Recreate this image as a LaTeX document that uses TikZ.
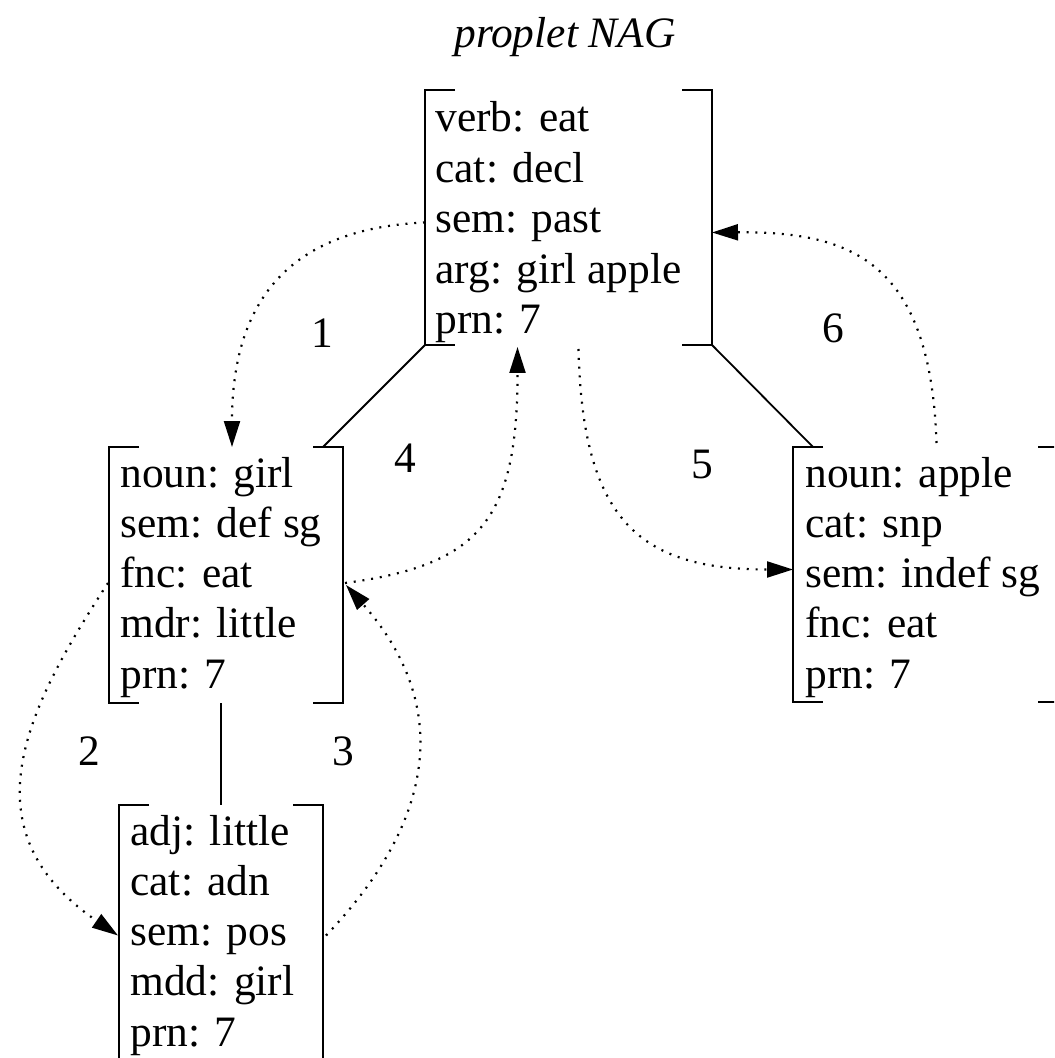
\documentclass[tikz,border=0pt]{standalone}
\usepackage{fontspec}
\setmainfont{Liberation Serif}
\usepackage{tikz}
\usetikzlibrary{arrows.meta, fit}
\tikzset{
  propframe/.style={inner sep=0pt, outer sep=0pt},
  field/.style={anchor=base west, inner sep=0pt},
  bracket/.style={line width=0.9pt, color=black},
  link/.style={line width=0.9pt, color=black},
  trace/.style={-{Triangle[length=13pt, width=8pt]}, line width=1.1pt,
    dash pattern=on 1pt off 3.4pt},
  stepnum/.style={inner sep=0pt}
}

\begin{document}
\begin{tikzpicture}[x=0.5pt, y=-0.5pt, every node/.style={font=\fontsize{21.7}{25}\selectfont}]
  \clip (0,0) rectangle (1054,1058);

  % title
  \node[anchor=base, font=\fontsize{21.7}{25}\selectfont\itshape] (title) at (565,48) {proplet NAG};

  % proplet frames
  \node[propframe, fit={(425,90) (712,345)}] (verb) {};
  \node[propframe, fit={(109,447) (343,703)}] (girl) {};
  \node[propframe, fit={(119,805) (323,1060)}] (little) {};
  \node[propframe, fit={(793,447) (1068,702)}] (apple) {};

  % brackets
  \foreach \n in {verb, girl, little, apple} {
    \draw[bracket] ([shift={(30,0)}]\n.north west) -- (\n.north west) -- (\n.south west) -- ++(30,0);
    \draw[bracket] ([shift={(-30,0)}]\n.north east) -- (\n.north east) -- (\n.south east) -- ++(-30,0);
  }

  % attributes
  \foreach \txt [count=\i] in {verb: eat, cat: decl, sem: past, arg: girl apple, prn: 7}
    \node[field] (verb-\i) at ([shift={(10,{42+50.5*(\i-1)})}]verb.north west) {\txt};
  \foreach \txt [count=\i] in {noun: girl, sem: def sg, fnc: eat, mdr: little, prn: 7}
    \node[field] (girl-\i) at ([shift={(11,{40+50.3*(\i-1)})}]girl.north west) {\txt};
  \foreach \txt [count=\i] in {adj: little, cat: adn, sem: pos, mdd: girl, prn: 7}
    \node[field] (little-\i) at ([shift={(11,{40+50.3*(\i-1)})}]little.north west) {\txt};
  \foreach \txt [count=\i] in {noun: apple, cat: snp, sem: indef sg, fnc: eat, prn: 7}
    \node[field] (apple-\i) at ([shift={(12,{40+50.3*(\i-1)})}]apple.north west) {\txt};

  % tree lines
  \draw[link] (verb.south west) -- ([shift={(-20,0)}]girl.north east);
  \draw[link] (verb.south east) -- ([shift={(20,0)}]apple.north west);
  \draw[link] (little.north |- girl.south) -- (little.north);

  % navigation
  \draw[trace] ([shift={(0,5)}]verb.west) .. controls +(-135,6) and +(0,-147) .. ([shift={(6,0)}]girl.north);
  \draw[trace] ([shift={(-1,8)}]girl.west) .. controls +(-83,127) and +(-153,-105) .. ([shift={(-1,3)}]little.west);
  \draw[trace] ([shift={(3,3)}]little.east) .. controls +(110,-115) and +(106,120) .. ([shift={(3,10)}]girl.east);
  \draw[trace] ([shift={(2,8)}]girl.east) .. controls +(135,-18) and +(0,173) .. ([shift={(-51,2)}]verb.south);
  \draw[trace] ([shift={(10,4)}]verb.south) .. controls +(4,172) and +(-153,0) .. ([shift={(0,-5)}]apple.west);
  \draw[trace] ([shift={(6,-4)}]apple.north) .. controls +(-6,-183) and +(138,-1) .. ([shift={(0,15)}]verb.east);

  % step numbers
  \node[stepnum] (n1) at (322,333) {1};
  \node[stepnum] (n2) at (89,751) {2};
  \node[stepnum] (n3) at (343,751) {3};
  \node[stepnum] (n4) at (405,458) {4};
  \node[stepnum] (n5) at (702,465) {5};
  \node[stepnum] (n6) at (833,328) {6};
\end{tikzpicture}
\end{document}
